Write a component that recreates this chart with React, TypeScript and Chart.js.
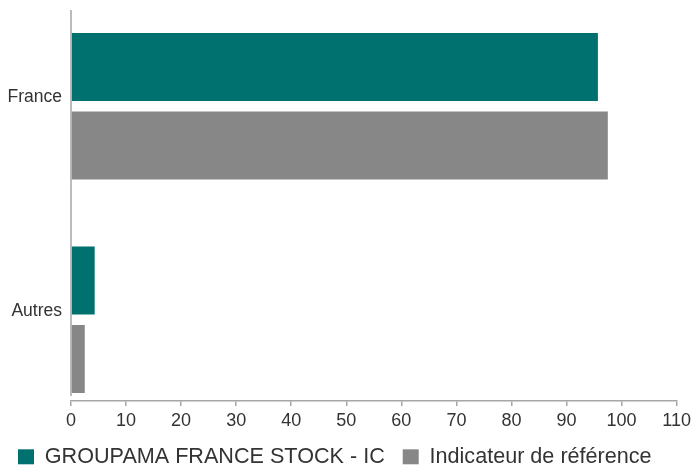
import React, { useEffect, useRef } from "react";
import { Chart, registerables } from "chart.js";

Chart.register(...registerables);

const categories = ["France", "Autres"];
const seriesNames = ["GROUPAMA FRANCE STOCK - IC", "Indicateur de référence"];
const fundValues = [95.7, 4.3];
const benchmarkValues = [97.5, 2.5];
const xTickMin = 0;
const xTickMax = 110;
const xTickStep = 10;

const FONT = "'Liberation Sans', Arial, Helvetica, sans-serif";
const TEXT = "#333333";
const AXIS = "#a6a6a6";

const yAxisLine = {
  id: "yAxisLine",
  afterDraw(chart: any) {
    const { ctx, chartArea } = chart;
    const x = chart.scales.x.getPixelForValue(0);
    ctx.save();
    ctx.strokeStyle = AXIS;
    ctx.lineWidth = 1.5;
    ctx.beginPath();
    ctx.moveTo(x, chartArea.top);
    ctx.lineTo(x, chartArea.bottom - 5);
    ctx.stroke();
    ctx.restore();
  },
};

export default function App() {
  const ref = useRef<HTMLCanvasElement | null>(null);

  useEffect(() => {
    document.body.style.margin = "0";
    const canvas = ref.current;
    if (!canvas) return;
    const toPoints = (vals: number[]) => vals.map((v, i) => ({ x: v, y: i }));
    const chart = new Chart(canvas, {
      type: "bar",
      data: {
        datasets: [
          {
            label: seriesNames[0],
            data: toPoints(fundValues),
            backgroundColor: "#00716e",
            borderWidth: 0,
            categoryPercentage: 0.735,
            barPercentage: 0.866,
          },
          {
            label: seriesNames[1],
            data: toPoints(benchmarkValues),
            backgroundColor: "#878787",
            borderWidth: 0,
            categoryPercentage: 0.735,
            barPercentage: 0.866,
          },
        ] as any,
      },
      options: {
        indexAxis: "y",
        responsive: false,
        animation: false,
        layout: { padding: { top: 10, right: 15, left: 0, bottom: 0 } },
        plugins: {
          tooltip: { enabled: false },
          legend: {
            position: "bottom",
            align: "start",
            maxHeight: 41,
            labels: {
              boxWidth: 16,
              boxHeight: 15,
              padding: 18,
              color: TEXT,
              font: { family: FONT, size: 21.6 },
            },
          } as any,
        },
        scales: {
          x: {
            type: "linear",
            min: xTickMin,
            max: xTickMax,
            offset: false,
            ticks: {
              stepSize: xTickStep,
              color: TEXT,
              padding: 4,
              font: { family: FONT, size: 18 },
            },
            grid: {
              display: true,
              drawOnChartArea: false,
              drawTicks: true,
              tickLength: 5,
              color: AXIS,
              lineWidth: 1.5,
              offset: false,
            },
            border: { display: true, color: AXIS, width: 1.5 },
            afterFit: (scale: any) => {
              scale.height = 27;
            },
          },
          y: {
            type: "linear",
            reverse: true,
            offset: false,
            min: -0.45,
            max: 1.38,
            afterBuildTicks: (scale: any) => {
              scale.ticks = categories.map((_, i) => ({ value: i }));
            },
            ticks: {
              color: TEXT,
              padding: 9,
              labelOffset: -8.5,
              font: { family: FONT, size: 17.5 },
              callback: (v: any) => categories[v as number] ?? "",
            },
            grid: { display: false, drawTicks: false, tickLength: 0, offset: false },
            border: { display: false },
            afterFit: (scale: any) => {
              scale.width = 71;
              scale.paddingTop = 0;
              scale.paddingBottom = 0;
            },
          },
        },
      } as any,
      plugins: [yAxisLine],
    });
    return () => chart.destroy();
  }, []);

  return (
    <div style={{ width: 695, height: 469, background: "#ffffff" }}>
      <canvas ref={ref} width={695} height={469} style={{ display: "block" }} />
    </div>
  );
}
